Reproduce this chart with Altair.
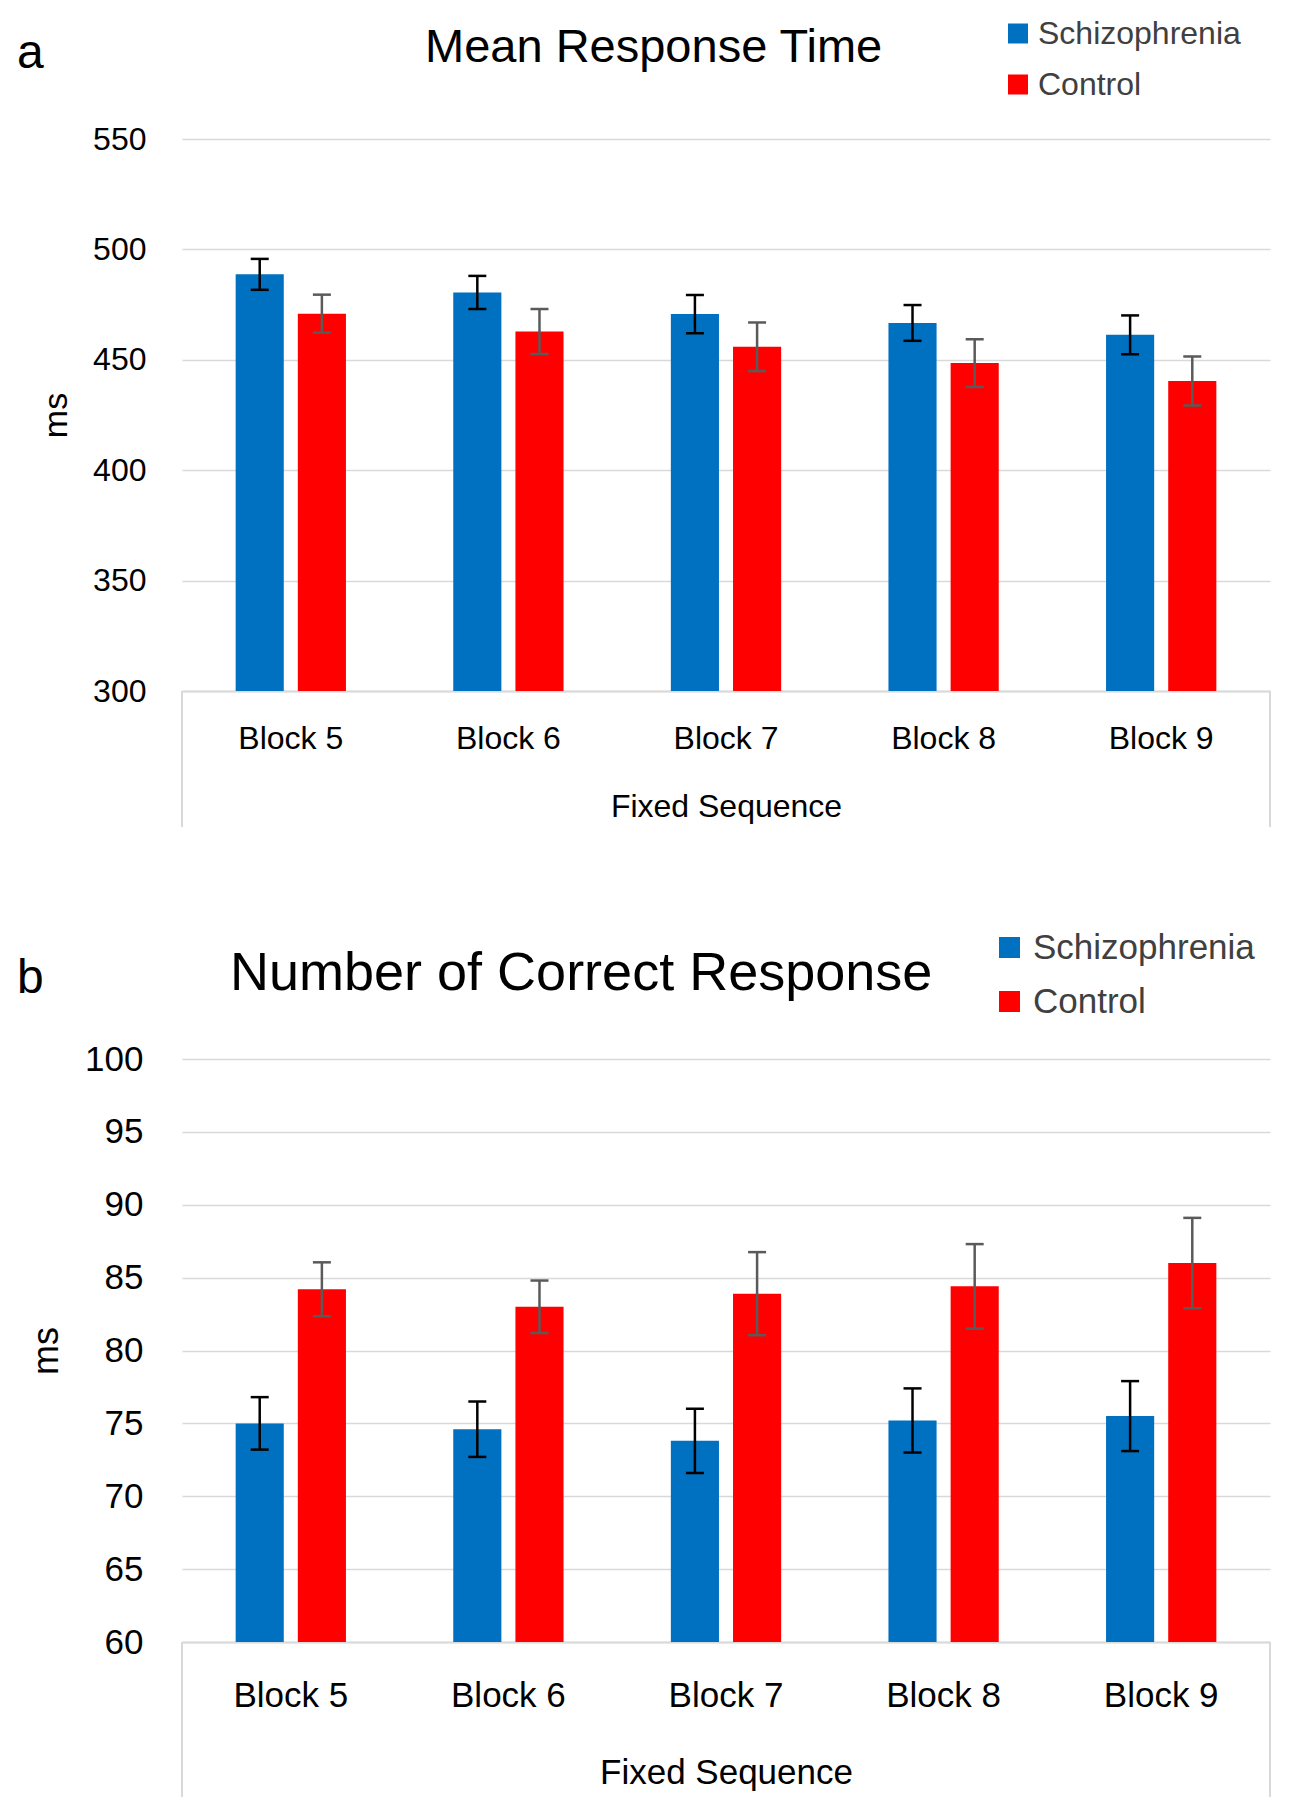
import altair as alt
import pandas as pd

# ---------------- data ----------------
blocks = ["Block 5", "Block 6", "Block 7", "Block 8", "Block 9"]
groups = ["Schizophrenia", "Control"]
colors = ["#0070C0", "#FF0000"]
err_colors = ["#000000", "#5a5a5a"]

rt_schiz = [488.7, 480.5, 470.7, 466.7, 461.3]
rt_schiz_err = [7.0, 7.5, 8.7, 8.1, 8.8]
rt_ctrl = [470.9, 462.8, 455.9, 448.5, 440.4]
rt_ctrl_err = [8.6, 10.2, 11.0, 10.8, 11.1]

cr_schiz = [75.0, 74.6, 73.8, 75.2, 75.5]
cr_schiz_err = [1.8, 1.9, 2.2, 2.2, 2.4]
cr_ctrl = [84.2, 83.0, 83.9, 84.4, 86.0]
cr_ctrl_err = [1.85, 1.8, 2.85, 2.9, 3.1]

rt_ticks = [300, 350, 400, 450, 500, 550]
cr_ticks = [60, 65, 70, 75, 80, 85, 90, 95, 100]

W = 1088
GRID = "#d9d9d9"
FONT = "Liberation Sans"


def make_df(s, se, c, ce):
    rows = []
    for i, b in enumerate(blocks):
        rows.append({"block": b, "group": groups[0], "value": s[i], "lo": s[i] - se[i], "hi": s[i] + se[i]})
        rows.append({"block": b, "group": groups[1], "value": c[i], "lo": c[i] - ce[i], "hi": c[i] + ce[i]})
    return pd.DataFrame(rows)


def panel(df, ticks, H, fs, title, title_x, title_y, title_fs, letter, letter_y,
          ylab_pad, ms_x, ms_fs, xlab_pad, xtitle_pad, legend_x, legend_y,
          sym, legend_fs, row_pad, lab_off, box_h):
    xenc = lambda: alt.X(
        "block:N", sort=blocks,
        scale=alt.Scale(domain=blocks, paddingInner=0, paddingOuter=0),
        axis=alt.Axis(title="Fixed Sequence", labelAngle=0, labelFontSize=fs,
                      labelPadding=xlab_pad, titlePadding=xtitle_pad, ticks=False,
                      domainColor=GRID, domainWidth=2, labelColor="#000000",
                      titleColor="#000000", titleFontSize=fs, titleFontWeight="normal",
                      labelFont=FONT, titleFont=FONT),
    )
    xoff = lambda: alt.XOffset("group:N", sort=groups,
                               scale=alt.Scale(domain=groups, paddingInner=0.226, paddingOuter=0.863))

    def yenc(field):
        return alt.Y(
            field + ":Q",
            scale=alt.Scale(domain=[ticks[0], ticks[-1]], nice=False, zero=False),
            axis=alt.Axis(title="ms", values=ticks, grid=True, gridColor=GRID, gridWidth=1.5,
                          domain=False, ticks=False, labelFontSize=fs, labelPadding=ylab_pad,
                          labelColor="#000000", titleColor="#000000", titleFontSize=ms_fs,
                          titleFontWeight="normal", titleAngle=270, titleX=ms_x, titleY=H / 2,
                          titleAlign="center", titleBaseline="middle",
                          labelFont=FONT, titleFont=FONT),
        )

    base = alt.Chart(df)
    bars = base.mark_bar().encode(
        x=xenc(), xOffset=xoff(), y=yenc("value"), y2=alt.datum(ticks[0]),
        color=alt.Color("group:N", sort=groups,
                        scale=alt.Scale(domain=groups, range=colors),
                        legend=alt.Legend(title=None, orient="none", legendX=legend_x, legendY=legend_y,
                                          symbolType="square", symbolSize=sym, symbolStrokeWidth=0,
                                          labelFontSize=legend_fs, labelOffset=lab_off, labelLimit=600,
                                          rowPadding=row_pad, padding=0, labelColor="#404040",
                                          labelFont=FONT)),
    )
    layers = [bars]
    for g, ec in zip(groups, err_colors):
        sub = base.transform_filter(alt.datum.group == g)
        layers.append(sub.mark_rule(color=ec, strokeWidth=2.5).encode(
            x=xenc(), xOffset=xoff(), y=yenc("lo"), y2="hi"))
        for f in ["lo", "hi"]:
            layers.append(sub.mark_tick(color=ec, thickness=2.5, size=18, opacity=1).encode(
                x=xenc(), xOffset=xoff(), y=yenc(f)))

    one = alt.Chart(pd.DataFrame({"k": [0]}))
    for xv in [0, W]:
        layers.append(one.mark_rule(color=GRID, strokeWidth=2).encode(
            x=alt.value(xv), y=alt.value(H), y2=alt.value(H + box_h)))
    layers.append(one.mark_text(align="left", baseline="alphabetic", fontSize=title_fs,
                                font=FONT, color="#000000").encode(
        x=alt.value(title_x), y=alt.value(title_y), text=alt.value(title)))
    layers.append(one.mark_text(align="left", baseline="alphabetic", fontSize=48,
                                font=FONT, color="#000000").encode(
        x=alt.value(-165), y=alt.value(letter_y), text=alt.value(letter)))

    return alt.layer(*layers).properties(width=W, height=H)


top = panel(make_df(rt_schiz, rt_schiz_err, rt_ctrl, rt_ctrl_err), rt_ticks, H=552, fs=32,
            title="Mean Response Time", title_x=243, title_y=-77, title_fs=47,
            letter="a", letter_y=-71, ylab_pad=36, ms_x=-126, ms_fs=34,
            xlab_pad=32, xtitle_pad=37, legend_x=820, legend_y=-121.5,
            sym=400, legend_fs=32, row_pad=19, lab_off=4, box_h=136)

bottom = panel(make_df(cr_schiz, cr_schiz_err, cr_ctrl, cr_ctrl_err), cr_ticks, H=583, fs=35,
               title="Number of Correct Response", title_x=48, title_y=-69, title_fs=54,
               letter="b", letter_y=-66, ylab_pad=39, ms_x=-136, ms_fs=36,
               xlab_pad=36, xtitle_pad=42, legend_x=810, legend_y=-129,
               sym=441, legend_fs=35, row_pad=18, lab_off=6, box_h=155)

chart = alt.vconcat(top, bottom, spacing=102).resolve_scale(color="independent").properties(
    padding={"left": 9, "top": 9, "right": 5, "bottom": 5}, background="white"
).configure(font=FONT).configure_view(strokeWidth=0, stroke="transparent")

chart.save("out.html", embed_options={"renderer": "svg", "actions": False})
